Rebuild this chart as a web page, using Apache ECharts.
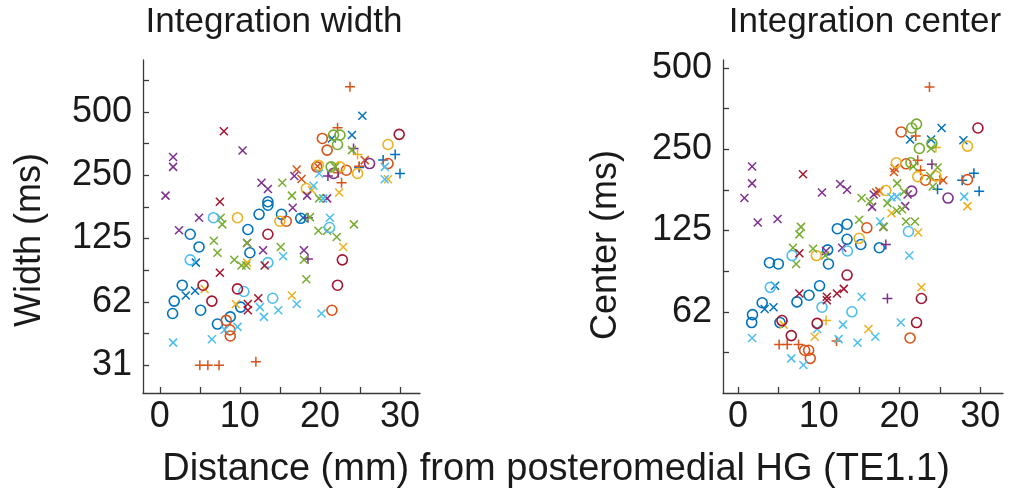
<!DOCTYPE html>
<html>
<head>
<meta charset="utf-8">
<script src="https://cdn.jsdelivr.net/npm/echarts@6/dist/echarts.min.js"></script>
<style>html,body{margin:0;padding:0;background:#fff}#c{width:1024px;height:500px}</style>
</head>
<body>
<div id="c"></div>
<script>
// ---------- tick labels ----------
const xTickValues = [0, 5, 10, 15, 20, 25, 30];
const xTickLabels = ['0', '10', '20', '30'];
const yTickMs = [31.25, 62.5, 125, 250, 500];
const yTickLabels = ['31', '62', '125', '250', '500'];

// ---------- colours ----------
const COL = {blue:'#0072BD', orange:'#D95319', yellow:'#EDB120', purple:'#7E2F8E', green:'#77AC30', cyan:'#4DBEEE', red:'#A2142F'};

// ---------- Integration width panel: [distance mm, width ms] ----------
const W_blue_o = [[13.5,187],[13.5,180],[12.4,163],[15.2,163],[11.0,138],[3.8,131],[4.9,114],[11.25,107],[2.8,75],[1.8,63],[1.6,55],[5.1,57],[10.1,59],[8.8,53],[7.2,49],[17.6,156]];
const W_blue_x = [[25.3,479],[21.5,374],[24.0,388],[4.5,96],[4.4,70.5],[3.25,67],[17.9,157]];
const W_blue_p = [[29.4,314],[27.9,295],[24.9,272],[30.0,255]];
const W_orange_o = [[20.3,374],[20.9,329],[28.5,284],[23.3,264],[19.6,274],[15.8,151],[8.3,51],[8.75,46],[8.8,43],[21.5,57]];
const W_orange_x = [[25.6,295],[17.1,266],[17.7,240],[19.7,276]];
const W_orange_p = [[23.75,658],[22.2,420],[24.9,276],[22.3,257],[22.7,230],[5.0,31.25],[6.0,31.25],[7.4,31.25],[12.0,32.4]];
const W_yellow_o = [[28.5,350],[24.7,255],[22.5,274],[19.8,279],[18.3,216],[15.0,151],[9.7,157]];
const W_yellow_x = [[28.5,239],[22.4,207],[19.0,212],[10.9,96],[5.6,72],[9.5,61],[22.9,114],[16.5,67]];
const W_yellow_p = [[24.7,314]];
const W_purple_o = [[26.2,284],[21.7,255]];
const W_purple_x = [[1.66,305],[1.66,274],[0.71,200],[10.34,328],[12.7,230],[13.5,215],[4.9,157],[2.4,137],[10.9,119],[12.9,110],[18.0,110],[16.8,248],[16.6,175],[18.4,200],[20.9,194]];
const W_purple_p = [[24.2,335],[21.0,248],[18.5,157],[18.5,100]];
const W_green_o = [[21.7,388],[22.5,388],[22.2,350],[21.4,274]];
const W_green_x = [[15.3,230],[7.6,157],[7.8,146],[6.75,122],[7.2,107],[10.9,119],[15.1,114],[9.3,99],[10.2,93],[10.8,93],[24.0,329],[21.9,274],[16.5,200],[19.9,194],[18.75,158],[24.25,146],[19.8,136],[20.9,136],[22.1,127],[18.0,99],[18.3,80]];
const W_cyan_o = [[6.7,157],[3.8,99],[13.5,96],[10.5,70],[14.1,65],[21.2,141]];
const W_cyan_x = [[19.9,255],[28.1,274],[28.1,239],[19.2,223],[20.4,194],[21.25,157],[15.4,103],[12.5,59],[14.8,57],[13.0,53],[8.1,46],[9.7,47.5],[1.66,40],[6.5,41.5],[17.1,61],[20.2,55]];
const W_red_o = [[29.9,391],[13.5,131],[5.4,75],[9.7,72],[6.5,63],[22.8,99],[22.2,75]];
const W_red_x = [[8.0,405],[7.5,187],[7.5,86],[13.1,93],[12.3,65],[11.0,61],[11.0,57]];

// ---------- Integration center panel: [distance mm, center ms] ----------
const C_blue_o = [[12.3,127],[13.5,132],[13.5,116],[15.2,111],[17.5,108],[11.1,106],[3.9,95],[5.0,94],[11.2,94],[10.1,78],[7.3,68],[8.8,72],[3.0,67.5],[1.8,61],[1.7,57],[5.2,57]];
const C_blue_x = [[21.3,272],[25.2,300],[23.9,272],[27.9,270],[4.6,78],[3.3,64],[4.4,65]];
const C_blue_p = [[29.2,204],[27.75,192],[29.85,175],[24.7,178]];
const C_orange_o = [[20.2,290],[20.8,221],[23.2,192],[28.4,193],[15.95,128],[8.25,45],[8.75,45],[8.95,42],[21.3,50]];
const C_orange_x = [[19.4,213],[19.3,206],[25.4,192],[17.5,175],[17.1,173]];
const C_orange_p = [[23.7,426],[22.0,280],[22.25,228],[22.6,209],[25.0,193],[12.2,48.7],[5.1,47.3],[6.1,47.3],[7.5,47.3]];
const C_yellow_o = [[28.4,257],[19.6,223],[22.25,198],[24.5,199],[18.3,176],[15.0,117],[9.7,101]];
const C_yellow_x = [[28.4,154],[19.0,145],[22.3,123],[22.7,77],[5.65,56],[9.5,50.5],[16.15,54]];
const C_yellow_p = [[24.5,254],[10.9,58]];
const C_purple_o = [[26.0,165],[21.5,175]];
const C_purple_x = [[1.75,216],[1.75,187],[0.8,165],[10.4,173],[12.65,186],[13.5,177],[2.45,134],[4.9,138],[16.6,153],[16.8,170],[18.0,129],[10.9,105],[12.9,108],[21.0,170],[20.7,154]];
const C_purple_p = [[24.0,220],[18.3,111],[18.5,70]];
const C_green_o = [[21.5,300],[22.1,310],[24.0,263],[22.45,252],[21.4,223]];
const C_green_x = [[15.3,165],[16.35,160],[18.5,158],[15.0,137],[7.8,129],[7.6,121],[6.8,108],[9.3,107],[10.8,101],[7.2,94],[18.0,129],[20.8,135],[21.9,135],[23.9,252],[21.7,216],[24.7,214],[23.8,199],[24.1,182],[20.55,174],[19.7,187],[19.65,148],[20.3,150]];
const C_cyan_o = [[21.1,124],[6.7,101],[13.55,105],[4.0,77],[10.4,65],[14.1,62.5]];
const C_cyan_x = [[17.6,135],[21.2,101],[19.0,166],[19.65,167],[28.0,167],[15.3,71],[9.8,54],[13.0,56],[1.75,50],[12.45,49.5],[14.8,48],[6.6,42],[8.1,39.7],[20.15,57],[17.0,50.5]];
const C_red_o = [[29.7,300],[13.5,85.5],[5.45,58],[9.8,56.6],[6.6,51],[22.7,70],[22.1,57]];
const C_red_x = [[8.05,202],[7.6,103],[7.6,73],[11.0,71],[11.0,69],[12.25,73],[13.1,76]];

const groupsW = [
  ['blue','o',W_blue_o],['blue','x',W_blue_x],['blue','p',W_blue_p],
  ['orange','o',W_orange_o],['orange','x',W_orange_x],['orange','p',W_orange_p],
  ['yellow','o',W_yellow_o],['yellow','x',W_yellow_x],['yellow','p',W_yellow_p],
  ['purple','o',W_purple_o],['purple','x',W_purple_x],['purple','p',W_purple_p],
  ['green','o',W_green_o],['green','x',W_green_x],
  ['cyan','o',W_cyan_o],['cyan','x',W_cyan_x],
  ['red','o',W_red_o],['red','x',W_red_x]
];
const groupsC = [
  ['blue','o',C_blue_o],['blue','x',C_blue_x],['blue','p',C_blue_p],
  ['orange','o',C_orange_o],['orange','x',C_orange_x],['orange','p',C_orange_p],
  ['yellow','o',C_yellow_o],['yellow','x',C_yellow_x],['yellow','p',C_yellow_p],
  ['purple','o',C_purple_o],['purple','x',C_purple_x],['purple','p',C_purple_p],
  ['green','o',C_green_o],['green','x',C_green_x],
  ['cyan','o',C_cyan_o],['cyan','x',C_cyan_x],
  ['red','o',C_red_o],['red','x',C_red_x]
];

// log2 transform relative to the lowest tick (31.25 ms)
const T = v => Math.log2(v / 31.25);
const yTickT = yTickMs.map(T);
const yMinorT = [];
for (let k = 0; k < yTickT.length; k++) { yMinorT.push(yTickT[k]); yMinorT.push(yTickT[k] + 0.5); }

const SYM = {
  o: {symbol:'circle', size:10},
  x: {symbol:'path://M0,0L10,10M10,0L0,10', size:8},
  p: {symbol:'path://M5,0L5,10M0,5L10,5', size:10}
};

function makeSeries(groups, idx) {
  return groups.map(([c, m, pts]) => ({
    type: 'scatter',
    xAxisIndex: idx, yAxisIndex: idx,
    symbol: SYM[m].symbol,
    symbolSize: SYM[m].size,
    itemStyle: {color: 'rgba(0,0,0,0)', borderColor: COL[c], borderWidth: m === 'o' ? 1.6 : 1.5, opacity: 1},
    emphasis: {disabled: true},
    data: pts.map(p => [p[0], T(p[1])])
  }));
}

const FONT = '"Liberation Sans", Arial, Helvetica, sans-serif';
const TXT = '#1a1a1a';
const AX = '#3a3a3a';

function xAxisCfg(idx, min, max) {
  return {
    type: 'value', gridIndex: idx, min: min, max: max,
    axisLine: {show: true, onZero: false, lineStyle: {color: AX, width: 1.3}},
    axisTick: {show: true, inside: true, length: 6, customValues: xTickValues, lineStyle: {color: AX, width: 1.3}},
    axisLabel: {show: true, margin: 6, fontSize: 36, color: TXT, fontFamily: FONT,
      customValues: xTickLabels.map(Number), formatter: v => String(v)},
    splitLine: {show: false}
  };
}
function yAxisCfg(idx, min, max, ticks, labelIdx) {
  return {
    type: 'value', gridIndex: idx, min: min, max: max,
    axisLine: {show: true, onZero: false, lineStyle: {color: AX, width: 1.3}},
    axisTick: {show: true, inside: true, length: 6, customValues: ticks, lineStyle: {color: AX, width: 1.3}},
    axisLabel: {show: true, margin: 11, fontSize: 36, color: TXT, fontFamily: FONT,
      customValues: labelIdx.map(i => yTickT[i]),
      formatter: v => { const i = yTickT.findIndex(t => Math.abs(t - v) < 1e-6); return i >= 0 ? yTickLabels[i] : ''; }},
    splitLine: {show: false}
  };
}

const chart = echarts.init(document.getElementById('c'), null, {renderer: 'canvas'});
chart.setOption({
  animation: false,
  backgroundColor: '#ffffff',
  grid: [
    {left: 143, top: 60, width: 277, height: 333, containLabel: false},
    {left: 723, top: 60, width: 280, height: 333, containLabel: false}
  ],
  xAxis: [xAxisCfg(0, -2.1, 32.5), xAxisCfg(1, -1.85, 32.8)],
  yAxis: [
    yAxisCfg(0, -0.44, 4.82, yMinorT.filter(t => t >= 0 && t <= 4.6), [0,1,2,3,4]),
    yAxisCfg(1, 0, 4.1, yMinorT.filter(t => t > 0.1 && t <= 4.05), [1,2,3,4])
  ],
  graphic: [
    {type:'text', x: 274, y: 22, style: {text: 'Integration width', font: '35px ' + FONT, fill: TXT, textAlign: 'center', textVerticalAlign: 'middle'}},
    {type:'text', x: 865, y: 22, style: {text: 'Integration center', font: '35px ' + FONT, fill: TXT, textAlign: 'center', textVerticalAlign: 'middle'}},
    {type:'text', x: 30, y: 240, rotation: Math.PI/2, style: {text: 'Width (ms)', font: '36px ' + FONT, fill: TXT, textAlign: 'center', textVerticalAlign: 'middle'}},
    {type:'text', x: 606, y: 245, rotation: Math.PI/2, style: {text: 'Center (ms)', font: '36px ' + FONT, fill: TXT, textAlign: 'center', textVerticalAlign: 'middle'}},
    {type:'text', x: 556, y: 470, style: {text: 'Distance (mm) from posteromedial HG (TE1.1)', font: '38px ' + FONT, fill: TXT, textAlign: 'center', textVerticalAlign: 'middle'}}
  ],
  series: makeSeries(groupsW, 0).concat(makeSeries(groupsC, 1))
});
</script>
</body>
</html>
